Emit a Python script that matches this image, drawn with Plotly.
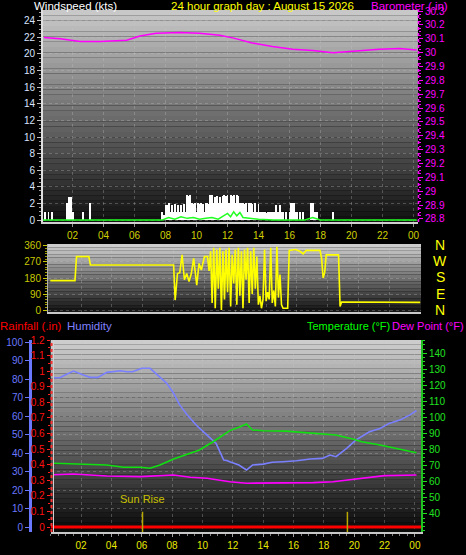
import plotly.graph_objects as go

W, H = 466, 555

def px(x):
    return x / W

def py(y):
    return 1 - y / H

# ---------------- DATA ----------------
hour_ticks = [2, 4, 6, 8, 10, 12, 14, 16, 18, 20, 22, 24]
hour_labels = ["02", "04", "06", "08", "10", "12", "14", "16", "18", "20", "22", "00"]

# Panel 1: barometer (in)
baro_hours = [0.15, 1.2, 2.5, 3.8, 5.5, 6.35, 7.4, 8.9, 10.2, 11.5, 12.4, 13.6,
              14.9, 16.2, 17.5, 18.8, 20.1, 21.8, 23.1, 24.2]
baro_in = [30.11, 30.10, 30.08, 30.08, 30.09, 30.12, 30.14, 30.145, 30.14, 30.125,
           30.105, 30.07, 30.045, 30.025, 30.015, 30.0, 30.01, 30.025, 30.03, 30.02]

# Panel 1: wind gusts (kts)
gust_hours = [0.2, 0.45, 0.7, 1.65, 1.8, 1.9, 2.05, 2.7, 3.1,
              7.8, 7.9, 8.0, 8.1, 8.2, 8.3, 8.4, 8.5, 8.6, 8.7, 8.8, 8.9, 9.0, 9.1, 9.2, 9.3,
              9.4, 9.5, 9.6, 9.7, 9.8, 9.9, 10.0, 10.1, 10.2, 10.3, 10.4, 10.5, 10.6, 10.7,
              10.8, 10.9, 11.0, 11.1, 11.2, 11.3, 11.4, 11.5, 11.6, 11.7, 11.8, 11.9, 12.0,
              12.1, 12.2, 12.3, 12.4, 12.5, 12.6, 12.7, 12.8, 12.9, 13.0, 13.1, 13.2, 13.3,
              13.4, 13.5, 13.6, 13.7, 13.8, 13.9, 14.0, 14.1, 14.2, 14.3, 14.4, 14.5, 14.6,
              14.7, 14.8, 14.9, 15.0, 15.1, 15.2, 15.3, 15.4, 15.5, 15.6, 15.8, 16.0, 16.1,
              16.2, 16.3, 16.4, 16.5, 16.7, 16.9, 17.4, 17.5, 17.6, 17.7, 17.8, 18.8]
gust_kts = [1, 1, 1, 2, 2.8, 2.8, 1, 1, 2,
            1, 0.6, 1.8, 1.8, 2, 1, 1.8, 1, 1.9, 1, 1.8, 1, 1.8, 1, 1.9, 1,
            3, 2.9, 3, 2, 1.9, 2, 1, 2, 1.9, 2, 1.9, 1, 2, 2,
            1.9, 3, 3, 2, 2.8, 2.9, 2, 2.8, 2, 2.9, 3, 2.9, 3,
            2, 3, 2.9, 3, 2, 3, 2.9, 2, 2, 2, 1.9, 2, 1,
            2, 2, 1.9, 1, 2, 1, 1.9, 1, 1, 1, 1, 0.8, 1,
            1, 1, 1, 1, 1.8, 1, 1, 1.8, 1, 1, 1, 1, 2,
            2, 2, 1, 1, 1, 1, 2, 2, 1, 1, 1, 1]

# Panel 1: average wind (kts)
avg_hours = [0, 7.8, 8.2, 8.6, 9.0, 9.4, 9.8, 10.2, 10.6, 11.0, 11.4, 11.8, 12.0, 12.2,
             12.4, 12.6, 12.8, 13.0, 13.4, 14.0, 15.0, 16.0, 17.0, 17.5, 18.0, 19.0, 24.2]
avg_kts = [0, 0, 0.3, 0.1, 0.4, 0.2, 0.3, 0.1, 0.2, 0.3, 0.1, 0.5, 0.8, 0.4,
           1.0, 0.5, 0.9, 0.3, 0.2, 0.1, 0, 0, 0, 0.3, 0, 0, 0]

# Panel 2: wind direction (deg)
dir_hours = [0, 1.6, 1.7, 2.5, 2.6, 8.0, 8.1, 8.25, 8.4, 8.55, 8.7, 8.85, 9.0, 9.15,
             9.3, 9.5, 9.65, 9.8, 10.0,
             10.2, 10.3, 10.4, 10.5, 10.6, 10.7, 10.8, 10.9, 11.0, 11.1, 11.2, 11.3, 11.4,
             11.5, 11.6, 11.7, 11.8, 11.9, 12.0, 12.1, 12.2, 12.3, 12.4, 12.5, 12.6, 12.7,
             12.8, 12.9, 13.0, 13.1, 13.2, 13.3, 13.4, 13.5, 13.6, 13.7, 13.8, 13.9, 14.0,
             14.1, 14.2, 14.3, 14.4, 14.5, 14.6, 14.7, 14.8, 14.9, 15.0, 15.1,
             15.2, 15.4, 15.5, 15.9, 16.2, 16.4, 16.6, 17.5, 17.6, 17.7, 17.8, 17.9,
             18.7, 18.8, 18.9, 24.0]
dir_deg = [165, 165, 300, 300, 253, 253, 56, 205, 210, 310, 170, 205, 160, 205,
           290, 140, 262, 225, 300,
           300, 220, 330, 40, 350, 10, 340, 120, 350, 0, 330, 60, 340,
           100, 350, 20, 310, 150, 340, 30, 350, 80, 330, 10, 340, 170,
           350, 40, 330, 90, 350, 120, 300, 30, 80, 10, 60, 340, 50,
           100, 60, 350, 40, 110, 20, 355, 70, 200, 30, 10,
           10, 10, 335, 340, 330, 315, 335, 335, 290, 180, 210, 310,
           310, 20, 45, 43]

# Panel 3
hum_hours = [0.2, 0.6, 0.95, 1.5, 2.16, 2.6, 3.1, 3.7, 4.6, 5.0, 5.4, 6.0, 6.55, 7.2,
             7.65, 8.1, 8.5, 9.0, 9.6, 10.3, 10.9, 11.4, 11.6, 11.8, 12.1, 12.4, 12.9,
             13.3, 14.0, 14.6, 15.3, 16.2, 17.1, 17.9, 18.4, 18.8, 19.5, 20.1, 21.0,
             21.7, 22.3, 23.0, 23.65, 24.1]
humidity = [80.7, 80.7, 82.2, 84.3, 82.2, 80.9, 80.9, 83.6, 84.5, 83.9, 83.9, 85.8, 85.8,
            81.3, 77.7, 72.3, 66, 60.5, 55, 49.7, 45.2, 36.2, 36, 35.3, 34.4, 33.5, 30.8,
            33.5, 34, 35, 35.3, 35.8, 36.8, 37.1, 38.9, 38, 42.5, 47, 51.5, 53.3, 56,
            57.8, 60.5, 62.9]

temp_hours = [0.2, 1.5, 2.6, 3.7, 4.8, 5.9, 6.55, 7.2, 8.1, 9.0, 9.8, 10.7, 11.6, 11.8,
              12.4, 12.9, 13.3, 14.0, 15.5, 17.3, 18.8, 19.9, 20.5, 21.7, 22.7, 24.1]
temperature = [71.5, 71.1, 70.4, 70.4, 69, 69, 68.4, 70.4, 74.2, 77.1, 79.8, 84.9, 90.1,
               91.8, 93.9, 95.9, 92.2, 91.7, 91.5, 90.1, 89.1, 86.6, 84.9, 82.9, 80.8, 78.1]

dew_hours = [0.2, 1.5, 3.7, 5.9, 8.1, 9.2, 10.3, 11.1, 11.6, 11.8, 12.9, 15.1, 17.3,
             18.6, 20.5, 22.0, 24.1]
dew_point = [64.4, 64.8, 63.6, 63.2, 64.2, 62.8, 62.2, 61.1, 60, 60, 59.1, 59.1, 59.5,
             60, 62.2, 63.8, 64.2]

rain_hours = [0, 6, 12, 18, 24.4]
rainfall = [0, 0, 0, 0, 0]

sun_events = [6.05, 19.55]
sun_labels = ["Sun Rise", ""]

baro_ticks = [28.8, 28.9, 29.0, 29.1, 29.2, 29.3, 29.4, 29.5, 29.6, 29.7, 29.8, 29.9,
              30.0, 30.1, 30.2, 30.3]
baro_labels = ["28.8", "28.9", "29", "29.1", "29.2", "29.3", "29.4", "29.5", "29.6",
               "29.7", "29.8", "29.9", "30", "30.1", "30.2", "30.3"]
rain_ticks = [0, 0.1, 0.2, 0.3, 0.4, 0.5, 0.6, 0.7, 0.8, 0.9, 1.0, 1.1, 1.2]
rain_labels = ["0", "0.1", "0.2", "0.3", "0.4", "0.5", "0.6", "0.7", "0.8", "0.9", "1",
               "1.1", "1.2"]
compass = ["N", "W", "S", "E", "N"]

# ---------------- FIGURE ----------------
FONT = "Liberation Sans"
fig = go.Figure()

fig.add_trace(go.Bar(x=gust_hours, y=gust_kts, width=0.06, marker_color="#ffffff",
                     marker_line_width=0, xaxis="x", yaxis="y", showlegend=False))
fig.add_trace(go.Scatter(x=avg_hours, y=avg_kts, mode="lines",
                         line=dict(color="#22ff22", width=1.5), xaxis="x", yaxis="y",
                         showlegend=False))
fig.add_trace(go.Scatter(x=baro_hours, y=baro_in, mode="lines",
                         line=dict(color="#ff00ff", width=1.5), xaxis="x", yaxis="y2",
                         showlegend=False))
fig.add_trace(go.Scatter(x=dir_hours, y=dir_deg, mode="lines",
                         line=dict(color="#ffff00", width=1.6), xaxis="x2", yaxis="y3",
                         showlegend=False))
fig.add_trace(go.Scatter(x=rain_hours, y=rainfall, mode="lines",
                         line=dict(color="#ff0000", width=3), xaxis="x3", yaxis="y4",
                         showlegend=False))
fig.add_trace(go.Scatter(x=hum_hours, y=humidity, mode="lines",
                         line=dict(color="#7a80ff", width=1.6), xaxis="x3", yaxis="y5",
                         showlegend=False))
fig.add_trace(go.Scatter(x=temp_hours, y=temperature, mode="lines",
                         line=dict(color="#10e010", width=1.6), xaxis="x3", yaxis="y6",
                         showlegend=False))
fig.add_trace(go.Scatter(x=dew_hours, y=dew_point, mode="lines",
                         line=dict(color="#ff00ff", width=1.6), xaxis="x3", yaxis="y6",
                         showlegend=False))

tickfont = dict(family=FONT, size=10)
grid = dict(showgrid=True, gridcolor="rgba(200,200,200,0.3)", griddash="dot", gridwidth=1)

layout = dict(
    width=W, height=H, margin=dict(l=0, r=0, t=0, b=0, autoexpand=False),
    paper_bgcolor="#000000", plot_bgcolor="rgba(0,0,0,0)",
    bargap=0, showlegend=False,
    xaxis=dict(domain=[px(43), px(418)], range=[0.097, 24.29], anchor="y",
               tickvals=hour_ticks, ticktext=hour_labels,
               tickfont=dict(tickfont, color="#d0d000"), ticks="outside", ticklen=3,
               tickcolor="#909090", showline=True, linecolor="#d0d0d0", linewidth=2,
               zeroline=False, **grid),
    yaxis=dict(domain=[py(222), py(10)], range=[-0.24, 25.3], anchor="x",
               tickvals=list(range(0, 25, 2)), tickfont=dict(tickfont, color="#d8e4ff"),
               ticks="outside", ticklen=4, tickcolor="#c0c0c0",
               minor=dict(ticks="outside", ticklen=2, dtick=0.5, tickcolor="#a0a0a0"),
               showline=True, linecolor="#e0e0e0", linewidth=2, zeroline=False, **grid),
    yaxis2=dict(overlaying="y", side="right", anchor="x", range=[28.778, 30.308],
                tickvals=baro_ticks, ticktext=baro_labels,
                tickfont=dict(tickfont, color="#ff00ff"), ticks="outside", ticklen=4,
                tickcolor="#ff00ff",
                minor=dict(ticks="outside", ticklen=2, dtick=0.025, tickcolor="#ff00ff"),
                showline=False, showgrid=False, zeroline=False),
    xaxis2=dict(domain=[px(48), px(421)], range=[-0.15, 24.05], anchor="y3",
                tickvals=hour_ticks, showticklabels=False, ticks="",
                showline=True, linecolor="#c8c8c8", linewidth=2, zeroline=False, **grid),
    yaxis3=dict(domain=[py(312), py(244)], range=[-11, 371], anchor="x2",
                tickvals=[0, 90, 180, 270, 360], tickfont=dict(tickfont, color="#c8c800"),
                ticks="outside", ticklen=4, tickcolor="#c8c800",
                minor=dict(ticks="outside", ticklen=2, dtick=15, tickcolor="#a0a000"),
                showline=True, linecolor="#b0b0b0", linewidth=1, zeroline=False, **grid),
    xaxis3=dict(domain=[px(50.7), px(421)], range=[0, 24.4], anchor="y4",
                tickvals=hour_ticks, ticktext=hour_labels,
                tickfont=dict(tickfont, color="#e8e800"), ticks="outside", ticklen=3,
                tickcolor="#a0a0a0",
                minor=dict(ticks="outside", ticklen=2, dtick=0.5, tickcolor="#808080"),
                showline=True, linecolor="#c8c8c8", linewidth=2, zeroline=False, **grid),
    yaxis4=dict(domain=[py(532), py(340)], range=[-0.032, 1.2], anchor="x3",
                tickvals=rain_ticks, ticktext=rain_labels,
                tickfont=dict(tickfont, color="#ff1010"), ticks="outside", ticklen=3,
                tickcolor="#ff2020",
                minor=dict(ticks="outside", ticklen=2, dtick=0.05, tickcolor="#ff2020"),
                showline=False, showgrid=False, zeroline=False),
    yaxis5=dict(overlaying="y4", anchor="free", position=px(30), side="left",
                range=[-2.7, 101.1], tickvals=list(range(0, 101, 10)),
                tickfont=dict(tickfont, color="#6a78ff"), ticks="outside", ticklen=4,
                tickcolor="#6a78ff", showline=True, linecolor="#6a78ff", linewidth=3,
                zeroline=False, **grid),
    yaxis6=dict(overlaying="y4", anchor="x3", side="right", range=[28.8, 148.1],
                tickvals=list(range(40, 141, 10)), tickfont=dict(tickfont, color="#20e020"),
                ticks="outside", ticklen=4, tickcolor="#20e020",
                minor=dict(ticks="outside", ticklen=2, dtick=2.5, tickcolor="#20e020"),
                showline=True, linecolor="#20c020", linewidth=2, showgrid=False,
                zeroline=False),
)
fig.update_layout(**layout)

# gradient backgrounds
def gradient(xref, yref, top, bottom, n=40):
    shapes = []
    for i in range(n):
        t = i / (n - 1)
        c = [round(top[k] + (bottom[k] - top[k]) * t) for k in range(3)]
        shapes.append(dict(type="rect", xref=xref, yref=yref, x0=0, x1=1,
                           y0=1 - (i + 1) / n, y1=1 - i / n, layer="below",
                           line=dict(width=0), fillcolor=f"rgb({c[0]},{c[1]},{c[2]})"))
    return shapes

shapes = []
shapes += gradient("x domain", "y domain", (200, 200, 200), (18, 18, 18))
shapes += gradient("x2 domain", "y3 domain", (205, 205, 205), (22, 22, 22), 20)
shapes += gradient("x3 domain", "y4 domain", (205, 205, 205), (10, 10, 10))
# dotted barometer axis line, dashed rainfall axis line
shapes.append(dict(type="line", xref="paper", yref="paper", x0=px(418.5), x1=px(418.5),
                   y0=py(222), y1=py(10), line=dict(color="#ff00ff", width=1.5, dash="dot")))
shapes.append(dict(type="line", xref="paper", yref="paper", x0=px(51.5), x1=px(51.5),
                   y0=py(532), y1=py(340), line=dict(color="#ff3030", width=2, dash="dot")))
shapes.append(dict(type="line", xref="paper", yref="paper", x0=px(53.5), x1=px(53.5),
                   y0=py(532), y1=py(340), line=dict(color="#d0d0d0", width=1)))
for h in sun_events:
    shapes.append(dict(type="line", xref="x3", yref="y4 domain", x0=h, x1=h, y0=0,
                       y1=0.105, line=dict(color="#b8a800", width=1.5)))
fig.update_layout(shapes=shapes)

ann = []
def text(x, y, s, color, size=11, anchor="left"):
    ann.append(dict(x=px(x), y=py(y), xref="paper", yref="paper", text=s,
                    showarrow=False, xanchor=anchor, yanchor="middle", borderpad=0,
                    font=dict(family=FONT, size=size, color=color)))

text(33, 6, "Windspeed (kts)", "#ffffff", 11.5)
text(170, 6, "24 hour graph day : August 15 2026", "#ffff00", 11.5)
text(370, 6, "Barometer (.in)", "#ff00ff", 11.5)
text(-1, 326, "Rainfall (.in)", "#ff0000", 11.5)
text(66, 326, "Humidity", "#8080ff", 11.5)
text(391, 326, "Temperature (°F)", "#00ff00", 11, "right")
text(465, 326, "Dew Point (°F)", "#ff00ff", 11, "right")
for lab, y in zip(compass, [245, 261, 277, 294, 310]):
    text(440, y, lab, "#ffff00", 14, "center")
for h, lab in zip(sun_events, sun_labels):
    if lab:
        ann.append(dict(x=h, y=0.13, xref="x3", yref="y4 domain", text=lab,
                        showarrow=False, xanchor="center", yanchor="bottom",
                        font=dict(family=FONT, size=11, color="#c8c000")))
fig.update_layout(annotations=ann)

fig.write_html("out.html", config={"displayModeBar": False},
               post_script="document.body.style.margin='0';document.body.style.background='#000';")
